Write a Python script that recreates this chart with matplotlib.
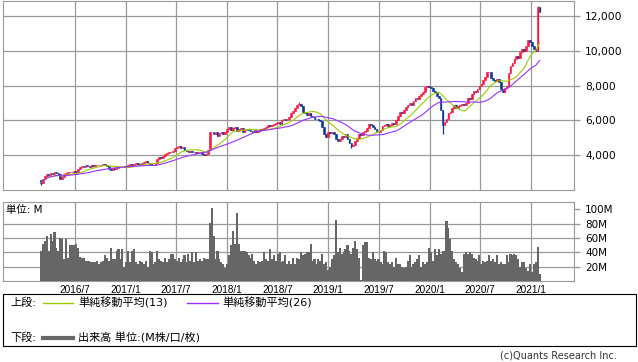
import numpy as np
import pandas as pd
import matplotlib
matplotlib.use('Agg')
import matplotlib.pyplot as plt
import matplotlib.dates as mdates
from matplotlib.patches import Rectangle
from matplotlib.lines import Line2D

plt.rcParams['font.family'] = ['DejaVu Sans', 'Noto Sans CJK JP']

# 週足データ (チャートから目視で読み取った概算値)
weeks = pd.date_range('2016-02-29', periods=258, freq='W-MON')

first_open = 2550
closes = [
    2400, 2600, 2800, 2900, 2850, 2950, 2900, 3000, 2950, 2900,
    2600, 2750, 2900, 2950, 3000, 3050, 3000, 3100, 3050, 3200,
    3300, 3350, 3300, 3400, 3350, 3300, 3400, 3350, 3400, 3450,
    3400, 3450, 3500, 3400, 3350, 3200, 3150, 3250, 3200, 3250, 3300,
    3300, 3300, 3350, 3300, 3450, 3500, 3450, 3500, 3550, 3500,
    3450, 3550, 3600, 3650, 3550, 3500, 3450, 3400, 3550, 3750,
    3900, 3850, 3950, 4050, 4100, 4200, 4150, 4250, 4400, 4450,
    4500, 4400, 4450, 4300, 4250, 4200, 4250, 4150, 4200, 4100, 4150,
    4150, 4050, 4000, 4050, 4300, 5300, 5350, 5200, 5350, 5100,
    5250, 5300, 5200, 5350, 5500, 5600, 5450, 5550, 5600, 5400,
    5500, 5550, 5350, 5450, 5500, 5450, 5400, 5300, 5450, 5350, 5400,
    5500, 5450, 5550, 5600, 5700, 5650, 5750, 5800, 5850, 5900,
    5800, 6000, 6100, 6000, 6050, 6200, 6400, 6550, 6700, 6900,
    6950, 6800, 6500, 6400, 6300, 6400, 6250, 6200, 6050, 6100, 6000,
    5950, 5600, 5200, 5050, 5300, 5250, 5350, 5200, 4900, 4800,
    4950, 5100, 5050, 5200, 4900, 4700, 4500, 4600, 4800, 5000,
    5200, 5150, 5300, 5400, 5550, 5800, 5700, 5600, 5500, 5300, 5350,
    5450, 5650, 5700, 5800, 5650, 5750, 5850, 5800, 6000, 6250,
    6500, 6400, 6600, 6750, 6900, 7000, 6900, 7100, 7300, 7200,
    7400, 7500, 7600, 7900, 8000, 7900, 7850, 7700, 7600, 7400,
    7300, 6600, 5700, 5900, 6100, 6400, 6500, 6700, 6850, 6700, 6800,
    6900, 6950, 6850, 7000, 7300, 7250, 7500, 7700, 7650, 7800,
    8000, 8100, 8300, 8500, 8750, 8800, 8450, 8300, 8250, 8350,
    8200, 7800, 7650, 7850, 8000, 8700, 9100, 9300, 9500, 9700,
    9600, 9900, 10100, 10000, 10300, 10600, 10500, 10300, 10100, 10000,
    12500, 12200,
]

# 目立つヒゲ (週番号: 価格)
high_wicks = {133: 7050, 256: 12600}
low_wicks = {0: 2300, 160: 4400, 207: 5200}

volume = [
    42, 52, 56, 62, 42, 66, 56, 68,
    46, 42, 60, 58, 30, 58,
    32, 50, 50, 50, 52, 46,
    34, 32, 32, 28, 28, 28,
    26, 26, 26, 28, 24, 26,
    28, 36, 32, 28, 46, 30,
    30, 42, 44, 30, 44, 20,
    26, 42, 26, 42, 44, 26,
    24, 28, 26, 24, 28, 20,
    42, 40, 24, 26, 42, 30,
    28, 26, 32, 26, 30, 38,
    38, 30, 28, 32, 26, 30,
    36, 26, 38, 28, 40, 26,
    40, 28, 30, 28, 32, 30,
    30, 81, 101, 62, 30, 42,
    30, 26, 24, 18, 24, 36,
    50, 70, 52, 95, 52, 42,
    42, 42, 40, 36, 32, 38,
    28, 24, 28, 26, 28, 40,
    30, 28, 44, 30, 36, 28,
    38, 40, 26, 28, 36, 24,
    28, 24, 32, 24, 32, 30,
    40, 36, 38, 40, 40, 52,
    28, 30, 24, 30, 28, 38,
    24, 26, 16, 20, 30, 36,
    85, 40, 46, 38, 40, 44,
    50, 42, 38, 46, 56, 44,
    32, 2, 50, 54, 54, 32,
    30, 40, 30, 28, 30, 26,
    24, 42, 40, 26, 24, 26,
    20, 32, 24, 24, 20, 18,
    20, 28, 36, 20, 24, 26,
    30, 36, 20, 26, 24, 26,
    46, 40, 28, 44, 36, 44,
    38, 42, 42, 84, 74, 58,
    42, 30, 26, 24, 18, 12,
    38, 40, 38, 40, 38, 32,
    30, 28, 36, 24, 28, 26,
    28, 36, 28, 30, 26, 36,
    24, 26, 24, 24, 36, 26,
    38, 36, 38, 36, 30, 20,
    26, 26, 18, 14, 24, 12,
    24, 26, 47, 10,
]

tick_dates = ['2016-07-01', '2017-01-01', '2017-07-01', '2018-01-01', '2018-07-01',
              '2019-01-01', '2019-07-01', '2020-01-01', '2020-07-01', '2021-01-01']
tick_labels = ['2016/7', '2017/1', '2017/7', '2018/1', '2018/7',
               '2019/1', '2019/7', '2020/1', '2020/7', '2021/1']
price_ticks = [4000, 6000, 8000, 10000, 12000]
vol_ticks = [20, 40, 60, 80, 100]

RED = '#ff1744'
BLUE = '#0b3a96'
GREEN = '#99cc00'
PURPLE = '#9b30ff'
VOLC = '#666666'
GRID = '#999999'

c = np.array(closes, dtype=float)
o = np.array([first_open] + closes[:-1], dtype=float)
hi = np.maximum(o, c)
lo = np.minimum(o, c)
for k, v in high_wicks.items():
    hi[k] = v
for k, v in low_wicks.items():
    lo[k] = v
x = mdates.date2num(weeks)
up = c >= o
cols = np.where(up, RED, BLUE)

ma13 = pd.Series(c).rolling(13, min_periods=1).mean()
ma26 = pd.Series(c).rolling(26, min_periods=1).mean()

W, H = 638, 362
def box(l, t, r, b):
    return [l / W, 1 - b / H, (r - l) / W, (b - t) / H]

fig = plt.figure(figsize=(W / 100, H / 100), dpi=100)
ax = fig.add_axes(box(3, 1, 574, 190))
axv = fig.add_axes(box(3, 202, 574, 281), sharex=ax)

# 上段: ローソク足 + 移動平均
ax.vlines(x, lo, hi, colors=cols, linewidth=0.9, zorder=3)
ax.bar(x, np.maximum(np.abs(c - o), 40), bottom=np.minimum(o, c),
       width=6.0, color=cols, edgecolor=cols, linewidth=0.4, zorder=3)
ax.plot(x, ma13, color=GREEN, lw=0.8, zorder=4)
ax.plot(x, ma26, color=PURPLE, lw=0.8, zorder=4)

tick_x = mdates.date2num(pd.to_datetime(tick_dates))
left = tick_x[0] - 72 / 0.2772
right = tick_x[-1] + 43 / 0.2772
ax.set_xlim(left, right)
ax.set_ylim(1990, 12860)
ax.set_xticks(tick_x)
ax.set_yticks(price_ticks)
ax.set_yticklabels([f'{v:,}' for v in price_ticks])
ax.yaxis.tick_right()
ax.tick_params(axis='x', length=0, labelbottom=False)
ax.tick_params(axis='y', length=4, width=1, color=GRID, labelsize=7.7, pad=4)
ax.grid(True, color=GRID, lw=0.9)
ax.set_axisbelow(True)
for s in ax.spines.values():
    s.set_color(GRID)

# 下段: 出来高
axv.bar(x, volume, width=7.6, color=VOLC, linewidth=0, antialiased=False, zorder=3)
axv.set_ylim(0, 110)
axv.set_yticks(vol_ticks)
axv.set_yticklabels([f'{v}M' for v in vol_ticks])
axv.yaxis.tick_right()
axv.tick_params(axis='y', length=4, width=1, color=GRID, labelsize=7.5, pad=4)
axv.tick_params(axis='x', length=0, pad=3)
axv.set_xticks(tick_x)
axv.set_xticklabels(tick_labels, fontsize=7.2, family=['Liberation Sans'])
axv.xaxis.grid(True, color=GRID, lw=0.9)
for v in vol_ticks[:-1]:
    axv.axhline(v, color=GRID, lw=0.9, zorder=1)
for s in axv.spines.values():
    s.set_color(GRID)
axv.text(0.006, 0.9, '単位: M', transform=axv.transAxes, fontsize=7.5, va='center', ha='left',
         bbox=dict(facecolor='white', edgecolor='none', pad=0.5), zorder=5)

# 凡例
fig.add_artist(Rectangle((3 / W, 1 - 346 / H), 633 / W, 52 / H, transform=fig.transFigure,
                         fill=False, edgecolor='black', lw=0.8))
y1 = 1 - 303 / H
y2 = 1 - 338 / H
fig.text(10 / W, y1, '上段:', fontsize=8, va='center')
fig.add_artist(Line2D([43 / W, 73 / W], [y1, y1], transform=fig.transFigure, color=GREEN, lw=1))
fig.text(78 / W, y1, '単純移動平均(13)', fontsize=8, va='center')
fig.add_artist(Line2D([187 / W, 218 / W], [y1, y1], transform=fig.transFigure, color=PURPLE, lw=1))
fig.text(222 / W, y1, '単純移動平均(26)', fontsize=8, va='center')
fig.text(10 / W, y2, '下段:', fontsize=8, va='center')
fig.add_artist(Line2D([43 / W, 73 / W], [y2, y2], transform=fig.transFigure, color=VOLC, lw=3))
fig.text(78 / W, y2, '出来高 単位:(M株/口/枚)', fontsize=8, va='center')

fig.text(617 / W, 1 - 356 / H, '(c)Quants Research Inc.', fontsize=7, color='#333333',
         ha='right', va='center')

fig.savefig('out.png', dpi=100)
